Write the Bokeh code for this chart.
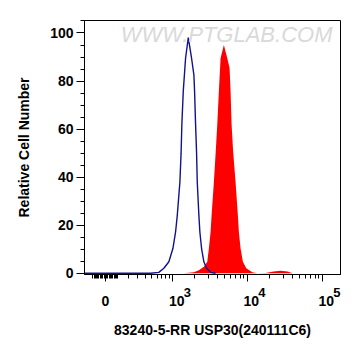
import numpy as np
from bokeh.plotting import figure
from bokeh.models import Range1d, FixedTicker, Label, LinearAxis
from bokeh.embed import file_html
from bokeh.resources import INLINE

# ---- data (fluorescence intensity, relative cell number) ----
blue_x = [-175, 482, 636, 751, 883, 1003, 1092, 1152, 1250, 1298, 1330, 1390, 1493, 1625,
          1799, 1933, 1975, 2037, 2101, 2146, 2256, 2326, 2452, 2632, 2860, 3236, 3774]
blue_y = [0, 0, 0.4, 2.1, 4.8, 10.3, 17.2, 24.1, 37.9, 50, 62, 75.8, 89.5, 98.1,
          89.5, 82.6, 75.8, 62, 50, 38, 24.1, 17.2, 10.3, 4.8, 2.1, 0.4, 0]

red_x = [1403, 1933, 2256, 2632, 2923, 3071, 3236, 3337, 3581, 3798, 3977, 4177, 4402, 4872,
         5408, 5805, 5986, 6173, 6464, 6980, 7493, 7725, 8139, 8734, 9695, 11659, 13591,
         17539, 22420, 27800, 34440, 40180]
red_y = [0, 0.4, 1.3, 2.7, 4.8, 10.3, 17.2, 24.1, 37.9, 51, 62, 75.8, 89.5, 95,
         89.5, 85.4, 75.8, 62, 51, 37.9, 24.1, 17.2, 10.3, 4.8, 2.1, 0.4, 0,
         0.1, 0.8, 1.1, 0.8, 0]

x_limits = [-175, 175000]
y_limits = [-0.5, 105.2]
x_major = [0, 1000, 10000, 100000]
x_major_base = ["0", "10", "10", "10"]
x_major_exp = ["", "3", "4", "5"]
x_minor = ([-v for v in range(10, 101, 10)] + list(range(10, 100, 10)) + list(range(100, 1000, 100))
           + list(range(2000, 10000, 1000)) + list(range(20000, 100000, 10000)))
y_major = [0, 20, 40, 60, 80, 100]
y_minor = list(range(0, 106, 5))

C = 128.0
def T(v):
    v = np.asarray(v, dtype=float)
    return np.log10(C) + np.arcsinh(v / (2 * C)) / np.log(10)

FONT = "Liberation Sans"
PX_PER_DECADE = 75.0

p = figure(width=345, height=340,
           x_range=Range1d(*T(x_limits)), y_range=Range1d(*y_limits),
           output_backend="svg", toolbar_location=None,
           min_border_left=84, min_border_right=5, min_border_top=20, min_border_bottom=64)
p.grid.visible = False
p.outline_line_color = "black"
p.outline_line_width = 1
p.background_fill_color = "white"
p.border_fill_color = "white"

p.varea(x=T(red_x), y1=0, y2=red_y, fill_color="#ff0000")
p.line(x=T(blue_x), y=blue_y, line_color="#12128c", line_width=1.4)

def style(ax, size="14px"):
    ax.major_tick_in = 0
    ax.minor_tick_in = 0
    ax.major_label_text_font = FONT
    ax.major_label_text_font_style = "bold"
    ax.major_label_text_font_size = size
    ax.major_label_text_color = "black"
    ax.axis_label_text_font = FONT
    ax.axis_label_text_font_style = "bold"
    ax.axis_label_text_font_size = "14px"
    ax.axis_label_text_color = "black"

# axis 1: the ticks
xa = p.xaxis[0]
style(xa)
xa.ticker = FixedTicker(ticks=list(T(x_major)), minor_ticks=list(T(x_minor)))
xa.major_label_overrides = {float(t): " " for t in T(x_major)}
xa.major_tick_out = 7
xa.minor_tick_out = 4
xa.major_label_standoff = 0
xa.major_label_text_font_size = "1px"

# axis 2: raised exponents, just right of each decade tick
exp_pos = [float(t) + 14.5 / PX_PER_DECADE for t, e in zip(T(x_major), x_major_exp) if e]
ax_exp = LinearAxis(ticker=FixedTicker(ticks=exp_pos, minor_ticks=[]),
                    axis_line_color=None, major_tick_line_color=None, minor_tick_line_color=None)
style(ax_exp, "13px")
ax_exp.major_label_overrides = {t: e for t, e in zip(exp_pos, [e for e in x_major_exp if e])}
ax_exp.major_label_standoff = -4
p.add_layout(ax_exp, "below")

# axis 3: "0" and the bases "10"
base_pos = [float(t) + (4.0 / PX_PER_DECADE if e else 0.0) for t, e in zip(T(x_major), x_major_exp)]
ax_base = LinearAxis(ticker=FixedTicker(ticks=base_pos, minor_ticks=[]),
                     axis_line_color=None, major_tick_line_color=None, minor_tick_line_color=None)
style(ax_base, "14px")
ax_base.major_label_overrides = {t: b for t, b in zip(base_pos, x_major_base)}
ax_base.major_label_standoff = -10
ax_base.axis_label = "83240-5-RR USP30(240111C6)"
ax_base.axis_label_standoff = 13
p.add_layout(ax_base, "below")

ya = p.yaxis[0]
style(ya)
ya.ticker = FixedTicker(ticks=y_major, minor_ticks=y_minor)
ya.major_tick_out = 8
ya.minor_tick_out = 4
ya.major_label_standoff = 3
ya.axis_label = "Relative Cell Number"
ya.axis_label_standoff = 15

wm = Label(x=float(T(125)), y=99.3, text="WWW.PTGLAB.COM", text_font=FONT,
           text_font_style="italic", text_font_size="22px", text_color="#d9d9d9",
           text_baseline="middle", text_align="left")
p.add_layout(wm)

open("out.html", "w").write(file_html(p, INLINE))
